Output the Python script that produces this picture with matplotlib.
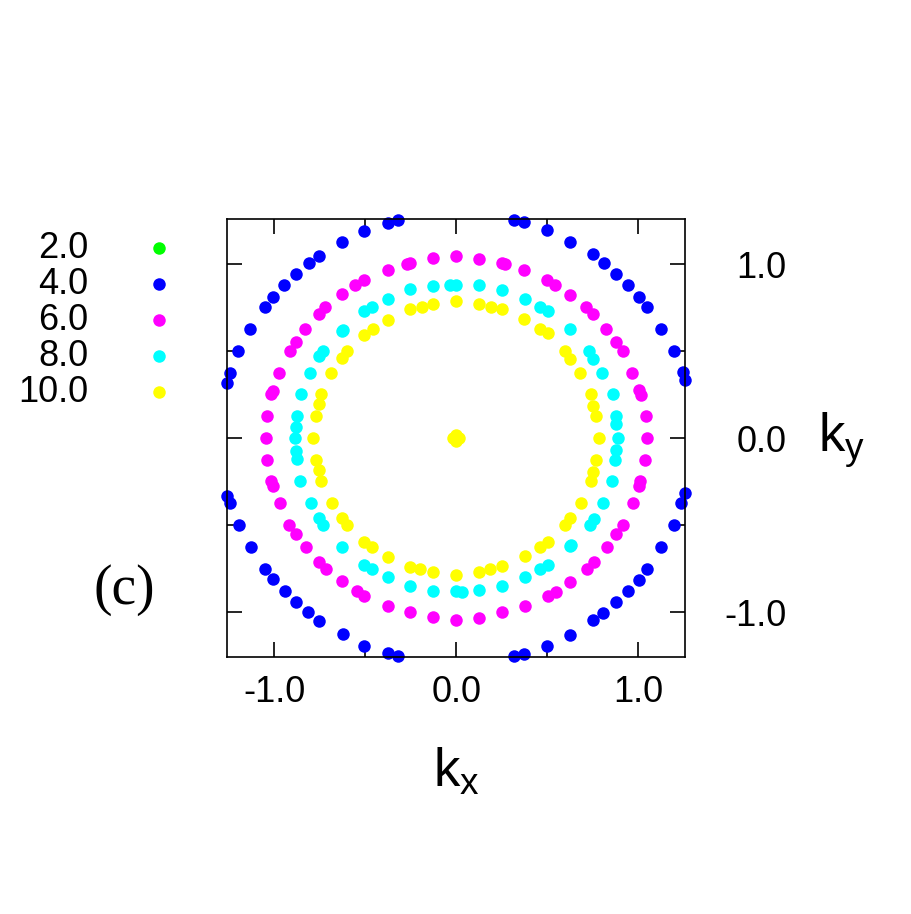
import matplotlib
matplotlib.use("Agg")
import matplotlib.pyplot as plt
from matplotlib.lines import Line2D

plt.rcParams.update({
    "font.family": "sans-serif",
    "font.sans-serif": ["Liberation Sans", "DejaVu Sans"],
    "mathtext.default": "regular",
})

# series labels and colours
labels = ["2.0", "4.0", "6.0", "8.0", "10.0"]
colors = ["#00ff00", "#0000ff", "#ff00ff", "#00ffff", "#ffff00"]

# 2.0 : hidden under the yellow spot in the centre
kx_2 = [0.0]
ky_2 = [0.0]

# 4.0 : outer ring (blue)
kx_4 = [0.317, 0.375, 0.500, 0.623, 0.751, 0.812, 0.878, 0.944, 1.004, 1.049, 1.125, 1.194, 1.245, 1.254,
        -0.320, -0.375, -0.505, -0.625, -0.754, -0.806, -0.878, -0.945, -1.007, -1.051, -1.130, -1.196, -1.240, -1.257,
        -1.257, -1.242, -1.194, -1.128, -1.049, -1.005, -0.941, -0.878, -0.813, -0.753, -0.623, -0.504, -0.375, -0.317,
        0.320, 0.375, 0.500, 0.623, 0.753, 0.806, 0.877, 0.943, 1.005, 1.049, 1.126, 1.198, 1.236, 1.254]
ky_4 = [1.252, 1.239, 1.193, 1.126, 1.057, 1.006, 0.940, 0.879, 0.810, 0.753, 0.626, 0.502, 0.377, 0.335,
        1.252, 1.236, 1.191, 1.126, 1.048, 1.003, 0.940, 0.877, 0.808, 0.751, 0.626, 0.500, 0.375, 0.314,
        -0.332, -0.374, -0.502, -0.625, -0.753, -0.810, -0.879, -0.941, -1.002, -1.054, -1.126, -1.193, -1.238, -1.251,
        -1.251, -1.240, -1.194, -1.129, -1.048, -1.004, -0.943, -0.879, -0.814, -0.753, -0.626, -0.502, -0.376, -0.313]

# 6.0 : magenta ring
kx_6 = [0.0, 0.126, 0.251, 0.268, 0.375, 0.500, 0.544, 0.626, 0.712, 0.751, 0.824, 0.877, 0.914, 0.965, 1.004, 1.015, 1.040, 1.048,
        -0.126, -0.254, -0.270, -0.377, -0.505, -0.553, -0.626, -0.718, -0.754, -0.828, -0.877, -0.914, -0.973, -1.007, -1.015, -1.038, -1.046,
        -1.038, -1.016, -1.005, -0.967, -0.916, -0.877, -0.826, -0.753, -0.714, -0.626, -0.546, -0.504, -0.377, -0.254, -0.125, 0.0,
        0.125, 0.254, 0.377, 0.502, 0.549, 0.626, 0.718, 0.755, 0.826, 0.877, 0.914, 0.971, 1.002, 1.011, 1.038]
ky_6 = [1.044, 1.030, 1.006, 1.002, 0.967, 0.910, 0.879, 0.822, 0.753, 0.714, 0.628, 0.553, 0.502, 0.375, 0.278, 0.249, 0.124, 0.0,
        1.034, 1.006, 1.000, 0.967, 0.910, 0.877, 0.829, 0.753, 0.713, 0.628, 0.552, 0.502, 0.375, 0.272, 0.253, 0.124, 0.0,
        -0.125, -0.249, -0.278, -0.374, -0.502, -0.552, -0.626, -0.711, -0.751, -0.822, -0.879, -0.906, -0.968, -1.002, -1.031, -1.047,
        -1.034, -1.002, -0.968, -0.910, -0.882, -0.828, -0.751, -0.713, -0.626, -0.552, -0.502, -0.376, -0.274, -0.249, -0.125]

# 8.0 : cyan ring
kx_8 = [0.888, 0.879, 0.875, 0.859, 0.801, 0.753, 0.731, 0.625, 0.502, 0.458, 0.377, 0.251, 0.126, 0.0,
        -0.033, -0.125, -0.253, -0.375, -0.460, -0.504, -0.619, -0.626, -0.732, -0.753, -0.804, -0.853, -0.872, -0.877,
        -0.886, -0.879, -0.875, -0.857, -0.798, -0.754, -0.729, -0.626, -0.504, -0.460, -0.377, -0.253, -0.125, 0.0,
        0.033, 0.126, 0.251, 0.377, 0.458, 0.502, 0.623, 0.630, 0.732, 0.755, 0.804, 0.853, 0.870, 0.878]
ky_8 = [0.0, 0.082, 0.124, 0.253, 0.375, 0.457, 0.503, 0.626, 0.730, 0.753, 0.799, 0.852, 0.879, 0.881,
        0.877, 0.875, 0.856, 0.799, 0.753, 0.728, 0.622, 0.613, 0.502, 0.469, 0.375, 0.251, 0.124, 0.063,
        0.0, -0.077, -0.121, -0.249, -0.374, -0.460, -0.502, -0.625, -0.730, -0.753, -0.797, -0.851, -0.879, -0.879,
        -0.882, -0.872, -0.853, -0.797, -0.753, -0.730, -0.623, -0.616, -0.502, -0.466, -0.376, -0.249, -0.125, -0.067]

# 10.0 : inner ring (yellow) plus the spot at the centre
kx_10 = [0.783, 0.769, 0.751, 0.738, 0.681, 0.626, 0.595, 0.502, 0.462, 0.375, 0.251, 0.192, 0.126, 0.0,
         -0.128, -0.187, -0.253, -0.377, -0.458, -0.504, -0.601, -0.626, -0.688, -0.743, -0.753, -0.771,
         -0.784, -0.771, -0.754, -0.740, -0.683, -0.626, -0.599, -0.504, -0.463, -0.375, -0.253, -0.196, -0.128, 0.0,
         0.125, 0.183, 0.251, 0.377, 0.458, 0.502, 0.597, 0.626, 0.685, 0.742, 0.751, 0.768,
         0.016, -0.016, 0.0, 0.0]
ky_10 = [0.0, 0.124, 0.186, 0.253, 0.375, 0.457, 0.502, 0.601, 0.628, 0.684, 0.743, 0.753, 0.770, 0.787,
         0.770, 0.753, 0.739, 0.680, 0.628, 0.594, 0.502, 0.461, 0.375, 0.251, 0.197, 0.124,
         0.0, -0.125, -0.186, -0.249, -0.374, -0.460, -0.502, -0.600, -0.626, -0.684, -0.741, -0.753, -0.772, -0.786,
         -0.772, -0.753, -0.738, -0.680, -0.626, -0.596, -0.502, -0.462, -0.376, -0.249, -0.198, -0.125,
         0.0, 0.0, 0.016, -0.016]

series = [(kx_2, ky_2), (kx_4, ky_4), (kx_6, ky_6), (kx_8, ky_8), (kx_10, ky_10)]

fig = plt.figure(figsize=(9.11, 9.14), dpi=100)
ax = fig.add_axes([0.2495, 0.2815, 0.5025, 0.4785])

for (kx, ky), c in zip(series, colors):
    ax.plot(kx, ky, linestyle="none", marker="o", ms=9, mew=0, color=c, clip_on=False)

lim = 1.2566
ax.set_xlim(-lim, lim)
ax.set_ylim(-lim, lim)

ax.set_xticks([-1.0, -0.5, 0.0, 0.5, 1.0])
ax.set_xticklabels(["-1.0", "", "0.0", "", "1.0"])
ax.set_yticks([-1.0, -0.5, 0.0, 0.5, 1.0])
ax.set_yticklabels(["-1.0", "", "0.0", "", "1.0"])
ax.tick_params(direction="in", length=11, width=1.2, labelsize=26,
               top=True, bottom=True, left=True, right=True)
ax.tick_params(axis="x", pad=13)
ax.tick_params(axis="y", labelleft=False, labelright=True, pad=73)
for t in ax.get_yticklabels():
    t.set_ha("right")
for s in ax.spines.values():
    s.set_linewidth(1.2)

# axis labels
fig.text(0.501, 0.155, "k$_x$", fontsize=38, ha="center", va="center")
fig.text(0.898, 0.506, "k$_y$", fontsize=38, ha="left", va="baseline")

# panel tag
fig.text(0.137, 0.355, "(c)", fontsize=40, family="Liberation Serif", ha="center", va="center")

# key, text first then marker
for i, (lab, c) in enumerate(zip(labels, colors)):
    y = 1 - (248 + 36 * i) / 914
    fig.text(0.097, y, lab, fontsize=26, ha="right", va="center")
    fig.add_artist(Line2D([0.1745], [y], transform=fig.transFigure, linestyle="none",
                          marker="o", ms=9, mew=0, color=c))

fig.savefig("out.png", dpi=100)
